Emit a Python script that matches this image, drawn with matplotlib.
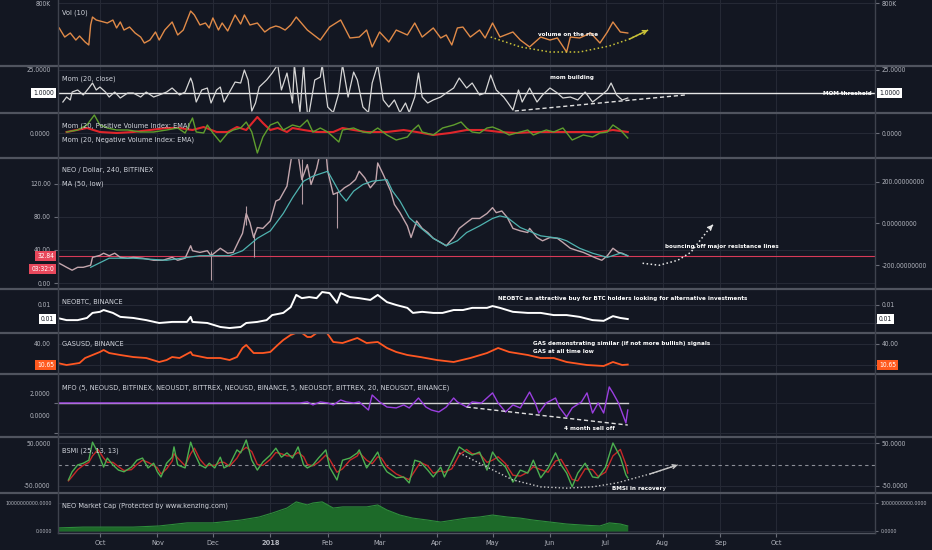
import numpy as np
import matplotlib
matplotlib.use('Agg')
import matplotlib.pyplot as plt
import matplotlib.dates as mdates
import matplotlib.transforms as mtransforms
from matplotlib.lines import Line2D
from matplotlib import font_manager as fm

# ---------------- data  (day = days after 2017-10-01) ----------------
month_labels = ['Oct', 'Nov', 'Dec', '2018', 'Feb', 'Mar', 'Apr', 'May', 'Jun',
                'Jul', 'Aug', 'Sep', 'Oct']

vol_k = [(-22, 559), (-19, 471), (-16, 510), (-13, 442), (-11, 481), (-8, 423), (-6, 394),
         (-5, 588), (-4, 665), (-2, 636), (2, 617), (4, 607), (7, 636), (9, 559), (11, 617),
         (13, 539), (16, 568), (19, 510), (22, 471), (24, 413), (27, 442), (30, 520),
         (32, 442), (35, 539), (39, 617), (42, 491), (45, 539), (49, 723), (51, 685),
         (54, 588), (57, 607), (59, 559), (61, 656), (64, 539), (66, 607), (69, 530),
         (73, 685), (76, 597), (78, 685), (81, 588), (85, 607), (89, 520), (92, 559),
         (95, 578), (97, 568), (100, 539), (103, 588), (106, 665), (112, 539), (119, 442),
         (124, 568), (130, 636), (135, 462), (140, 471), (144, 539), (147, 375), (151, 520),
         (156, 423), (160, 539), (166, 491), (170, 607), (174, 471), (180, 559), (184, 462),
         (187, 491), (190, 394), (193, 559), (196, 568), (200, 471), (205, 539), (208, 462),
         (212, 607), (216, 471), (223, 520), (227, 442), (232, 375), (238, 471), (243, 442),
         (247, 462), (252, 326), (254, 471), (259, 462), (265, 510), (270, 413), (274, 520),
         (277, 617), (281, 520), (285, 510)]

mom_close = [(-20, -8.2), (-18, -3.1), (-16, -6.1), (-15, 2.0), (-12, 4.1), (-9, -1.0),
             (-6, 6.1), (-4, 11.2), (-2, 4.1), (0, 7.1), (3, 2.0), (5, -3.1), (8, 2.0),
             (11, -4.1), (15, 1.0), (18, 1.0), (22, -3.1), (25, 2.0), (29, -3.1), (32, -1.0),
             (36, 2.0), (39, 6.1), (43, -1.0), (46, 2.0), (49, 16.3), (50, 11.2), (52, -8.2),
             (55, 4.1), (58, 6.1), (60, -9.2), (63, 4.1), (65, 7.1), (67, -8.2), (70, 2.0),
             (73, 12.2), (76, 11.2), (78, 24.5), (80, 14.3), (82, -17.5), (84, -9.2), (86, 7.1),
             (90, 14.3), (93, 21.4), (96, 30), (98, 4.1), (101, 21.4), (104, -9.2), (105, 30),
             (108, -19), (110, 30), (111, 1.0), (112, -19), (113, -19), (116, 14.3),
             (119, 17.3), (120, 30), (123, -13.3), (126, -19), (129, 1.0), (131, 30),
             (134, -3.1), (137, 22.4), (139, 14.3), (142, -13.3), (145, -19), (147, 11.2),
             (150, 30), (153, -6.1), (156, -13.3), (159, -6.1), (162, -19), (165, -9.2),
             (167, -19), (170, -3.1), (172, 21.4), (174, -3.1), (177, -9.2), (180, -6.1),
             (184, -3.1), (187, 1.0), (191, 6.1), (194, 16.3), (198, 6.1), (201, 11.2),
             (205, -1.0), (208, 1.0), (211, 19.4), (214, 4.1), (218, -3.1), (220, -8.2),
             (223, -16.4), (226, 4.1), (228, -8.2), (232, 6.1), (236, -8.2), (239, -1.0),
             (243, 6.1), (247, 1.0), (250, -4.1), (254, -3.1), (258, -6.1), (262, 2.0),
             (266, -8.2), (271, -1.0), (274, 4.1), (276, 11.2), (279, -1.0), (282, -6.1),
             (285, -4.1)]
mom_threshold = 1.0

pvi_mom = [(-18, 1), (-12, 3), (-7, 8), (-3, 18), (0, 8), (4, 5), (9, 3), (15, 3), (22, 1),
           (29, 1), (36, 3), (42, 5), (46, 0), (50, 15), (52, 1), (56, 0), (58, 8), (61, 0),
           (65, -9), (69, 0), (72, 3), (76, 5), (79, 11), (82, 1), (85, -20), (88, -4),
           (92, 8), (96, 11), (99, 3), (104, 8), (108, 6), (112, 13), (115, 1), (119, 5),
           (123, 1), (126, -4), (129, -9), (131, 3), (137, 5), (142, 1), (146, 0), (150, 5),
           (155, -2), (160, -7), (166, -4), (169, 3), (172, 8), (174, 1), (180, -2), (185, 5),
           (191, 8), (195, 11), (198, 5), (201, 1), (205, 0), (209, 5), (212, 6), (216, 3),
           (221, -2), (225, 0), (231, 3), (234, -2), (238, 1), (241, 3), (245, 1), (250, 5),
           (255, -7), (261, -2), (266, -4), (270, 0), (274, 1), (277, 8), (281, 3), (285, -5)]
nvi_mom = [(-18, 1), (-7, 5), (0, 1), (9, 0), (18, 1), (27, 3), (36, 5), (43, 5), (50, 3),
           (56, 6), (63, 1), (69, 1), (74, 6), (79, 3), (85, 16), (88, 10), (92, 3), (96, 5),
           (101, 1), (104, 5), (110, 3), (117, 1), (126, 1), (131, 5), (137, 3), (144, 1),
           (155, 1), (164, 3), (171, 1), (180, -2), (189, 0), (198, 3), (207, 3), (216, 1),
           (225, 0), (234, 1), (243, 1), (252, 1), (261, 1), (270, 1), (277, 3), (285, 1)]

neo_usd = [(-23, 25), (-20, 21.5), (-18, 19), (-15, 15.5), (-12, 19), (-9, 19), (-5, 21.5),
           (-4, 31), (0, 33.4), (2, 36), (5, 33), (8, 36), (11, 31), (15, 30), (18, 31),
           (23, 30), (29, 27.5), (34, 27.5), (39, 31), (42, 27.5), (46, 30), (49, 45), (50, 39),
           (54, 37), (58, 39), (60, 33), (65, 42), (69, 36), (72, 37), (75, 51), (77, 60),
           (79, 84), (81, 73), (83, 55), (85, 67), (88, 66), (92, 75), (95, 99), (97, 101),
           (101, 117), (104, 160), (107, 155), (109, 125), (112, 143), (114, 119), (117, 138),
           (119, 158), (122, 160), (123, 135), (126, 107), (130, 111), (132, 115), (135, 119),
           (138, 125), (140, 135), (143, 127), (146, 115), (149, 123), (150, 145), (153, 131),
           (157, 111), (159, 95), (162, 85), (166, 69), (168, 55), (171, 75), (174, 66),
           (177, 61), (180, 54), (184, 49), (187, 45), (191, 55), (194, 66), (198, 73),
           (201, 78), (205, 78), (209, 84), (212, 91), (214, 85), (217, 87), (220, 79),
           (223, 66), (227, 63), (231, 61), (232, 66), (236, 55), (239, 51), (243, 55),
           (247, 54), (250, 49), (254, 42), (258, 39), (261, 37), (265, 33), (268, 30),
           (271, 27.5), (274, 33), (277, 42), (280, 37), (282, 36), (285, 32.84)]
neo_wicks = [(60, 3.6, 39), (79, 70, 93), (83, 31, 60), (109, 95, 150), (128, 66, 110)]
neo_last = 32.84
ma50_low = [(-5, 19), (5, 30), (18, 30), (36, 27.5), (54, 33), (70, 33), (77, 39), (85, 54),
            (92, 63), (99, 84), (104, 103), (110, 123), (115, 129), (123, 135), (126, 123),
            (130, 107), (133, 99), (137, 111), (142, 119), (147, 123), (155, 125), (158, 111),
            (162, 99), (167, 79), (173, 67), (180, 54), (187, 45), (193, 51), (198, 61),
            (205, 69), (212, 78), (216, 81), (220, 79), (227, 67), (238, 57), (248, 54),
            (252, 51), (259, 42), (266, 36), (274, 31), (281, 36), (285, 33)]

neo_btc = [(-23, 0.0064), (-18, 0.0058), (-12, 0.0058), (-7, 0.0064), (-4, 0.0078),
           (0, 0.0081), (2, 0.0086), (7, 0.0078), (11, 0.0067), (18, 0.0064), (25, 0.0058),
           (32, 0.0050), (39, 0.0053), (47, 0.0053), (49, 0.0067), (50, 0.0053), (58, 0.0050),
           (65, 0.0039), (70, 0.0036), (76, 0.0039), (79, 0.0050), (85, 0.0053), (90, 0.0058),
           (93, 0.0072), (99, 0.0078), (103, 0.0094), (106, 0.0128), (109, 0.0119),
           (113, 0.0122), (117, 0.0119), (120, 0.0136), (124, 0.0133), (128, 0.0106),
           (130, 0.0133), (135, 0.0122), (140, 0.0119), (146, 0.0114), (150, 0.0128),
           (155, 0.0108), (160, 0.0100), (166, 0.0092), (169, 0.0078), (174, 0.0081),
           (180, 0.0078), (185, 0.0078), (191, 0.0086), (196, 0.0086), (201, 0.0092),
           (209, 0.0092), (212, 0.0097), (216, 0.0092), (223, 0.0081), (231, 0.0078),
           (238, 0.0078), (245, 0.0072), (252, 0.0072), (259, 0.0067), (266, 0.0058),
           (272, 0.0056), (277, 0.0069), (281, 0.0064), (285, 0.0061)]

gas_usd = [(-23, 12.9), (-18, 10.0), (-11, 12.9), (-8, 20.0), (-4, 24.3), (0, 28.6), (2, 31.4),
           (5, 27.1), (11, 24.3), (18, 21.4), (25, 20.0), (32, 14.3), (36, 17.1), (39, 21.4),
           (43, 20.0), (49, 28.6), (50, 24.3), (58, 20.0), (65, 20.0), (70, 17.1), (74, 21.4),
           (77, 34.3), (79, 38.6), (83, 27.1), (88, 27.1), (92, 28.6), (96, 38.6), (99, 45.7),
           (103, 52.9), (108, 58), (112, 50.0), (114, 50.0), (117, 55.7), (122, 58),
           (126, 42.9), (131, 41.4), (139, 48.6), (144, 41.4), (150, 42.9), (155, 34.3),
           (160, 28.6), (166, 24.3), (173, 21.4), (182, 17.1), (191, 14.3), (200, 20.0),
           (209, 27.1), (215, 34.3), (221, 28.6), (231, 24.3), (238, 20.0), (245, 20.0),
           (252, 14.3), (263, 10.0), (272, 8.6), (277, 14.3), (282, 10.0), (285, 10.65)]
gas_last = 10.65

mfo = [(-22, 0), (106, 0), (108, 0), (112, 0.7), (115, -1.3), (119, 0.7), (123, 0),
       (126, -1.3), (130, 2.0), (133, 0.7), (137, 0), (140, 0.7), (145, -4.7), (147, 5.3),
       (151, 0.7), (155, -2.7), (160, -3.3), (164, -1.3), (167, -3.3), (172, 3.3), (176, -2.7),
       (179, -4.7), (183, -6.0), (187, -2.7), (191, 3.3), (193, 0.7), (198, -2.7), (201, 0.7),
       (206, 0), (212, 6.7), (215, 0), (219, -6.0), (223, -1.3), (227, -3.3), (232, 7.3),
       (235, 0), (237, -6.7), (241, 0), (246, 3.3), (248, -2.7), (252, -9.3), (255, -3.3),
       (260, 0.7), (263, 6.7), (266, -6.7), (269, 0), (272, -6.7), (275, 10.7), (277, 6.7),
       (280, 0), (284, -13.3), (285, -4.7)]

bsmi_fast = [(-17, -36), (-15, -17), (-12, -1), (-9, 3), (-6, 10), (-4, 52), (-1, 27), (2, -6),
             (4, 15), (7, -1), (10, -13), (13, -17), (17, -6), (20, 10), (23, 15), (26, -8),
             (29, 3), (31, -17), (33, -29), (36, 3), (39, 17), (40, 41), (42, -1), (46, -8),
             (49, 52), (51, 27), (54, -1), (57, -8), (59, 3), (62, -8), (65, 17), (67, -8),
             (70, -1), (74, 34), (76, 27), (79, 57), (82, 10), (85, -13), (88, 6), (92, 22),
             (95, 38), (98, 17), (101, 27), (104, 15), (107, 41), (110, -1), (112, -8),
             (115, -1), (118, 15), (122, 34), (124, -6), (128, -36), (131, 10), (135, 15),
             (139, 27), (140, 34), (144, -8), (147, 10), (150, 29), (152, 3), (155, -17),
             (160, -31), (164, -29), (167, -43), (170, 10), (173, 6), (177, -13), (180, -29),
             (184, -6), (186, -29), (190, 6), (194, 41), (198, 29), (201, 22), (205, 29),
             (209, -13), (212, 29), (215, 10), (219, -6), (223, -41), (227, -13), (231, -20),
             (234, 10), (238, -31), (242, -8), (246, 27), (249, -1), (252, -20), (255, -52),
             (258, -20), (262, 3), (266, -29), (269, -31), (273, -6), (277, 50), (281, 17),
             (284, -24), (285, -31)]
bsmi_slow = [(-17, -38), (-15, -28), (-12, -12), (-9, -2), (-6, 5), (-4, 20), (-1, 35), (2, 15),
             (4, 5), (7, 5), (10, -5), (13, -14), (17, -12), (20, 0), (23, 10), (26, 5), (29, -2),
             (31, -8), (33, -22), (36, -10), (39, 8), (40, 25), (42, 15), (46, -3), (49, 25),
             (51, 38), (54, 12), (57, -3), (59, -2), (62, -2), (65, 5), (67, 5), (70, -4),
             (74, 15), (76, 30), (79, 40), (82, 30), (85, 0), (88, -2), (92, 12), (95, 28),
             (98, 25), (101, 20), (104, 20), (107, 28), (110, 18), (112, 0), (115, -3), (118, 5),
             (122, 22), (124, 12), (128, -18), (131, -10), (135, 10), (139, 20), (140, 28),
             (144, 10), (147, 2), (150, 18), (152, 15), (155, -5), (160, -22), (164, -30),
             (167, -35), (170, -15), (173, 5), (177, -3), (180, -20), (184, -15), (186, -18),
             (190, -10), (194, 22), (198, 35), (201, 25), (205, 25), (209, 5), (212, 10),
             (215, 18), (219, 2), (223, -25), (227, -27), (231, -18), (234, -5), (238, -12),
             (242, -18), (246, 8), (249, 12), (252, -10), (255, -35), (258, -38), (262, -10),
             (266, -12), (269, -28), (273, -18), (277, 20), (281, 35), (284, 0), (285, -20)]

mcap_bn = [(-23, 1.1), (-9, 1.4), (18, 1.4), (32, 1.8), (47, 2.9), (61, 2.9), (76, 3.9),
           (86, 5.0), (93, 6.4), (101, 8.2), (106, 10.4), (112, 9.3), (115, 10.0), (120, 10.4),
           (126, 8.2), (131, 8.6), (139, 8.6), (144, 8.6), (150, 9.3), (155, 7.5), (162, 5.7),
           (169, 4.6), (177, 3.9), (184, 3.2), (191, 3.9), (198, 4.6), (205, 5.0), (212, 5.7),
           (220, 5.0), (227, 4.6), (234, 3.9), (243, 3.2), (252, 2.5), (261, 2.1), (270, 1.8),
           (275, 2.9), (281, 2.5), (285, 1.8)]

# hand-drawn annotation guides (day, value)
vol_rise_curve = [(211, 471), (227, 375), (243, 326), (259, 326), (275, 384), (286, 452), (296, 539)]
mom_build_line = [(224, -17.4), (316, -1.0)]
resist_curve = [(293, 23.9), (302, 21.5), (312, 27.5), (319, 37), (324, 51.3), (329, 65.7), (331, 70.4)]
sell_off_line = [(198, -2.7), (285, -14.7)]
bsmi_rec_curve = [(194, 27), (209, -6), (223, -36), (238, -52), (252, -55), (266, -52),
                  (279, -43), (297, -22), (312, -1)]

# ---------------- style ----------------
names = {f.name for f in fm.fontManager.ttflist}
if 'Liberation Sans Narrow' in names:
    FAM = ['Liberation Sans Narrow', 'DejaVu Sans']
    STRETCH = 'normal'
    FS_T, FS_L, FS_A, FS_BIG = 5.6, 6.3, 5.3, 4.4
else:
    FAM = ['DejaVu Sans']
    STRETCH = 'condensed'
    FS_T, FS_L, FS_A, FS_BIG = 4.8, 5.3, 4.5, 3.8
plt.rcParams['font.family'] = FAM
plt.rcParams['font.stretch'] = STRETCH

BG = '#131722'
GRID = '#252935'
SEP = '#50545f'
TXT = '#b2b5be'
TTL = '#d1d4dc'
W, H = 932, 550
XL, XR = 57.5, 875.0

BASE = mdates.date2num(np.datetime64('2017-10-01'))
MONTHS = mdates.date2num(np.arange(np.datetime64('2017-10'), np.datetime64('2018-11'),
                                   np.timedelta64(1, 'M')).astype('datetime64[D]'))


def T(d):
    return BASE + np.asarray(d, dtype=float)


def xy(pairs):
    a = np.array(pairs, dtype=float)
    return T(a[:, 0]), a[:, 1]


fig = plt.figure(figsize=(W / 100, H / 100), dpi=100, facecolor=BG)


def pane(top, bot, ylim, yticks, ylabels, fs=None, rlen=3):
    ax = fig.add_axes([XL / W, 1 - bot / H, (XR - XL) / W, (bot - top) / H])
    ax.set_facecolor(BG)
    for s in ax.spines.values():
        s.set_visible(False)
    ax.set_xlim(T(-22.9), T(418.5))
    ax.set_ylim(*ylim)
    ax.set_xticks(MONTHS)
    ax.tick_params(axis='x', length=0, labelbottom=False)
    ax.set_yticks(yticks)
    ax.set_yticklabels(ylabels)
    ax.tick_params(axis='y', left=False, right=True, labelleft=True, labelright=True,
                   labelsize=fs or FS_T, labelcolor=TXT, color='#6a6d78', length=rlen, pad=2)
    ax.grid(True, color=GRID, lw=0.8)
    ax.set_axisbelow(True)
    return ax


def left_twin(ax, ylim, yticks, ylabels):
    t = ax.twinx()
    t.set_facecolor('none')
    for s in t.spines.values():
        s.set_visible(False)
    t.set_ylim(*ylim)
    t.set_yticks(yticks)
    t.set_yticklabels(ylabels)
    t.tick_params(axis='y', left=False, right=False, labelleft=True, labelright=False,
                  labelsize=FS_T, labelcolor=TXT, pad=2)
    ax.tick_params(axis='y', labelleft=False)
    return t


def right_twin(ax, ylim, yticks, ylabels):
    t = ax.twinx()
    t.set_facecolor('none')
    for s in t.spines.values():
        s.set_visible(False)
    t.set_ylim(*ylim)
    t.set_yticks(yticks)
    t.set_yticklabels(ylabels)
    t.tick_params(axis='y', left=False, right=True, labelleft=False, labelright=True,
                  labelsize=FS_T, labelcolor=TXT, color='#6a6d78', length=3, pad=2)
    ax.tick_params(axis='y', labelright=False, right=False)
    return t


def box(ax, y, text, fc, tc, sides=('left', 'right')):
    tr = mtransforms.blended_transform_factory(ax.transAxes, ax.transData)
    for side in sides:
        x, ha = (-0.004, 'right') if side == 'left' else (1.005, 'left')
        ax.text(x, y, text, transform=tr, ha=ha, va='center', fontsize=FS_T, color=tc,
                bbox=dict(boxstyle='square,pad=0.3', fc=fc, ec='none'), clip_on=False, zorder=20)


def guide(ax, pts, color, ls, arrow=False, lw=1.0):
    xs, ys = xy(pts)
    ax.plot(xs, ys, color=color, lw=lw, ls=ls, zorder=6)
    if arrow:
        ax.annotate('', xy=(xs[-1], ys[-1]), xytext=(xs[-2], ys[-2]),
                    arrowprops=dict(arrowstyle='->', color=color, lw=lw, shrinkA=0, shrinkB=0,
                                    mutation_scale=7), zorder=6)


def note(ax, d, v, s, ha='left'):
    ax.text(T(d), v, s, color='white', fontsize=FS_A, fontweight='bold', ha=ha, va='center',
            zorder=8)


def title(y, s):
    fig.text(62 / W, 1 - y / H, s, color=TTL, fontsize=FS_L, ha='left', va='center', zorder=30)


# ---- Vol ----
ax = pane(0, 65, (200, 830), [800], ['800K'])
x, y = xy(vol_k)
ax.plot(x, y, color='#e08a48', lw=1.0)
guide(ax, vol_rise_curve, '#c9c238', ':', arrow=True, lw=1.1)
note(ax, 253, 491, 'volume on the rise', ha='center')

# ---- Mom ----
ax = pane(66, 112, (-18.4, 28.6), [25], ['25.0000'])
ax.axhline(mom_threshold, color='#e6e6e6', lw=1.0, zorder=3)
x, y = xy(mom_close)
ax.plot(x, y, color='#d6d6d6', lw=0.9, zorder=4)
guide(ax, mom_build_line, '#e0e0e0', (0, (3, 2)))
note(ax, 243, 17.3, 'mom building')
tr = mtransforms.blended_transform_factory(ax.transAxes, ax.transData)
ax.text(0.996, mom_threshold, 'MOM threshold', transform=tr, color='white', fontsize=FS_A,
        fontweight='bold', ha='right', va='center', zorder=8)
box(ax, mom_threshold, '1.0000', 'white', '#131722')

# ---- PVI / NVI ----
ax = pane(113, 157, (-24, 20), [0], ['0.0000'])
x, y = xy(pvi_mom)
ax.plot(x, y, color='#5f9e2e', lw=1.0, zorder=4)
x, y = xy(nvi_mom)
ax.plot(x, y, color='#e0262b', lw=1.5, zorder=3)

# ---- NEO price ----
ax = pane(158, 288, (-6, 151), [0, 40, 80, 120], ['0.00', '40.00', '80.00', '120.00'])
right_twin(ax, (-310, 314), [-200, 0, 200], ['-200.00000000', '0.00000000', '200.00000000'])
ax.axhline(neo_last, color='#d83a58', lw=0.8, zorder=2)
for d, lo, hi in neo_wicks:
    ax.vlines(T(d), lo, hi, color='#b49aa2', lw=0.8, zorder=3)
x, y = xy(neo_usd)
ax.plot(x, y, color='#c3a6ad', lw=1.0, zorder=4)
x, y = xy(ma50_low)
ax.plot(x, y, color='#4fb3b0', lw=0.9, zorder=5)
guide(ax, resist_curve, '#e8e8e8', ':', arrow=True, lw=1.1)
note(ax, 305, 44.2, 'bouncing off major resistance lines')
tr = mtransforms.blended_transform_factory(ax.transAxes, ax.transData)
ax.text(-0.004, neo_last, '32.84', transform=tr, ha='right', va='center', fontsize=FS_T,
        color='white', bbox=dict(boxstyle='square,pad=0.3', fc='#e8485c', ec='none'),
        clip_on=False, zorder=20)
ax.annotate('03:32:0', xy=(-0.004, neo_last), xycoords=tr, xytext=(0, -13),
            textcoords='offset pixels', ha='right', va='center', fontsize=FS_T, color='white',
            bbox=dict(boxstyle='square,pad=0.3', fc='#e8485c', ec='none'),
            annotation_clip=False, zorder=20)

# ---- NEOBTC ----
ax = pane(289, 332, (0.0025, 0.01444), [0.005, 0.01], ['', '0.01'])
x, y = xy(neo_btc)
ax.plot(x, y, color='white', lw=1.4, zorder=4)
note(ax, 215, 0.01194, 'NEOBTC an attractive buy for BTC holders looking for alternative investments')
box(ax, neo_btc[-1][1], '0.01', 'white', '#131722')

# ---- GASUSD ----
ax = pane(333, 373, (-1.4, 55.7), [10, 40], ['', '40.00'])
x, y = xy(gas_usd)
ax.plot(x, y, color='#ff5722', lw=1.3, zorder=4)
note(ax, 234, 41.4, 'GAS demonstrating similar (if not more bullish) signals')
note(ax, 234, 29.5, 'GAS at all time low')
box(ax, gas_last, '10.65', '#ff5a1f', 'white')

# ---- MFO ----
ax = pane(374, 436, (-22, 19.3), [-20, 0], ['-20.0000', '0.0000'])
left_twin(ax, (-1.91, 3.73), [0, 2], ['0.0000', '2.0000'])
x, y = xy(mfo)
ax.plot([x[0], x[-1]], [0, 0], color='#d0d0d0', lw=1.0, zorder=3)
ax.plot(x, y, color='#9b3fe0', lw=1.0, zorder=4)
guide(ax, sell_off_line, '#e0e0e0', (0, (3, 2)))
note(ax, 250.6, -16.7, '4 month sell off')

# ---- BSMI ----
ax = pane(437, 492, (-64, 64), [-50, 50], ['-50.0000', '50.0000'])
ax.axhline(0, color='#8a8d96', lw=0.8, ls=(0, (3, 3)), zorder=2)
x, y = xy(bsmi_slow)
ax.plot(x, y, color='#c62828', lw=1.0, zorder=3)
x, y = xy(bsmi_fast)
ax.plot(x, y, color='#4caf50', lw=1.0, zorder=4)
guide(ax, bsmi_rec_curve, '#c8c8c8', ':', arrow=True, lw=1.0)
note(ax, 276.5, -55, 'BMSI in recovery')

# ---- Market cap ----
ax = pane(493, 533, (-0.71, 13.57), [0, 10], ['0.0000', '10000000000.0000'], fs=FS_BIG, rlen=2)
x, y = xy(mcap_bn)
ax.fill_between(x, 0, y, color='#1d6a29', lw=0, zorder=3)
ax.plot(x, y, color='#2e8c3b', lw=0.8, zorder=4)
ax.set_xticklabels(month_labels)
ax.tick_params(axis='x', labelbottom=True, length=3, color='#6a6d78', labelcolor=TXT,
               labelsize=FS_L, pad=2)
for lbl in ax.get_xticklabels():
    if lbl.get_text() == '2018':
        lbl.set_fontweight('bold')

# ---- pane titles ----
title(13, 'Vol (10)')
title(79, 'Mom (20, close)')
title(126, 'Mom (20, Positive Volume Index: EMA)')
title(140, 'Mom (20, Negative Volume Index: EMA)')
title(170, 'NEO / Dollar, 240, BITFINEX')
title(184, 'MA (50, low)')
title(302, 'NEOBTC, BINANCE')
title(344, 'GASUSD, BINANCE')
title(388, 'MFO (5, NEOUSD, BITFINEX, NEOUSDT, BITTREX, NEOUSD, BINANCE, 5, NEOUSDT, BITTREX, 20, NEOUSDT, BINANCE)')
title(451, 'BSMI (25, 13, 13)')
title(506, 'NEO Market Cap (Protected by www.kenzing.com)')

# ---- separators & frame ----
for ysep in [65.5, 112.5, 157.5, 288.5, 332.5, 373.5, 436.5, 492.5]:
    fig.add_artist(Line2D([0, 1], [1 - ysep / H] * 2, transform=fig.transFigure,
                          color=SEP, lw=1.6, zorder=25))
fig.add_artist(Line2D([XL / W, XR / W], [1 - 533 / H] * 2, transform=fig.transFigure,
                      color=SEP, lw=1.0, zorder=25))
for xv in [XL, XR]:
    fig.add_artist(Line2D([xv / W] * 2, [1, 1 - 533 / H], transform=fig.transFigure,
                          color='#3e424d', lw=1.0, zorder=25))

fig.savefig('out.png', dpi=100, facecolor=BG)
